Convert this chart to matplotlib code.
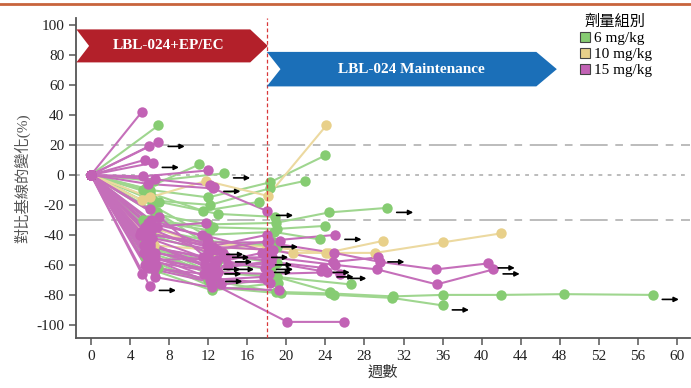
import matplotlib
matplotlib.use('Agg')
import matplotlib.pyplot as plt
from matplotlib.patches import Polygon
from matplotlib.lines import Line2D

plt.rcParams['font.family'] = ['Liberation Serif', 'Noto Sans CJK TC']
plt.rcParams['axes.unicode_minus'] = False

# 6 mg/kg
green_weeks = [[0, 6.9], [0, 6.4, 13.6], [0, 5.6, 11.1], [0, 6, 12, 18.3, 24],
               [0, 6.3, 12.2, 18.3, 21.9], [0, 6, 11.5, 17.2], [0, 6.5, 12, 18.9, 24.4, 30.3],
               [0, 5.8, 12.5, 19, 24], [0, 6, 12, 18.9, 24.5, 30.9, 36, 42, 48.4, 57.5],
               [0, 5.5, 12.5, 19.5, 24.9, 30.8, 36], [0, 6, 12, 19, 26.6], [0, 5.5, 12.3, 19, 24.5],
               [0, 6.2, 11.7, 18.7, 23.4], [0, 6.8, 12.8, 18.5], [0, 5.9, 12.6], [0, 6.6, 12.4, 19.1],
               [0, 5.3], [0, 6.1, 12.1, 19.0], [0, 7.0, 13.0, 18.8], [0, 5.9],
               [0, 5.7, 12.0, 19.0], [0, 6.4, 12.9, 18.4], [0, 5.3, 12.2], [0, 6.9, 13.2, 18.9]]
green_pct = [[0, 33], [0, -4, 1], [0, -9, 7], [0, -10, -15, -5, 13],
             [0, -17, -20, -9, -4], [0, -12, -24, -18], [0, -26, -33, -32, -25, -22],
             [0, -30, -35, -36, -34], [0, -60, -70, -78, -79, -81, -80, -80, -79.5, -80],
             [0, -55, -75, -79, -80, -82, -87], [0, -52, -64, -68, -73], [0, -45, -65, -68, -78],
             [0, -20, -40, -38, -43], [0, -25, -50, -45], [0, -48, -68], [0, -64, -77, -72],
             [0, -10], [0, -40, -52, -59], [0, -18, -26, -28], [0, -58],
             [0, -35, -44, -48], [0, -50, -58, -63], [0, -30, -37], [0, -62, -73, -70]]
green_ongoing = [False, True, False, False, False, False, True, False, True, True,
                 False, False, False, True, False, False, False, False, False, False,
                 False, False, False, False]

# 10 mg/kg
yellow_weeks = [[0, 6, 11.8, 18.1, 24.1], [0, 5.2],
                [0, 6.3, 12.4, 18.3, 20.7, 24.4, 29.1, 36, 42],
                [0, 5.8, 12, 18, 24.1, 29.9], [0, 6.4, 12.6]]
yellow_pct = [[0, -15, -4, -14, 33], [0, -17],
              [0, -35, -48, -50, -52, -52, -52, -45, -39],
              [0, -38, -46, -48, -52, -44], [0, -47, -50]]
yellow_ongoing = [False, False, False, False, False]

# 15 mg/kg
magenta_weeks = [[0, 5.2], [0, 5.9], [0, 6.9], [0, 5.5], [0, 6.3], [0, 5.3, 12.0],
                 [0, 6.6, 12.2, 12.6], [0, 5.8, 12.5, 18.0], [0, 6.0], [0, 5.5, 11.8],
                 [0, 6, 12, 18, 24.9, 29.6, 35.3, 40.7], [0, 6, 12, 18.5, 25, 29.3, 35.4, 41.2],
                 [0, 5.8, 12.3, 20.1, 25.9], [0, 5.2], [0, 6.0], [0, 5.5, 12, 18, 19.3],
                 [0, 6.2, 12.4, 18.2, 25.0], [0, 5.6, 11.7, 17.5], [0, 6.5, 12.8, 18],
                 [0, 5.8, 12, 18.4, 23.8], [0, 6.3, 13, 18.2, 24.2], [0, 5.5, 12.2, 17.7],
                 [0, 6.8, 12.5, 18.6, 24.8, 29.4], [0, 5.9, 11.6, 12.8], [0, 6.5, 12.4, 19.2],
                 [0, 5.4, 12.9, 13.5], [0, 6.1, 11.9], [0, 7.0, 12.6],
                 [0, 5.7, 12.1, 18.2, 23.5, 25.5], [0, 6.4, 13.3, 18.0],
                 [0, 5.0, 11.5, 17.8], [0, 5.6, 12.7], [0, 6.2, 12.0, 17.9], [0, 5.9, 13.8],
                 [0, 6.7], [0, 5.4, 12.3, 18.3], [0, 6.0, 12.6, 14.0], [0, 5.1, 11.9, 12.9],
                 [0, 6.5, 12.1], [0, 5.8, 11.4, 18.1]]
magenta_pct = [[0, 42], [0, 19], [0, 22], [0, 10], [0, 8], [0, -1, 3],
               [0, -3, -7, -8], [0, -6, -9, -24], [0, -23], [0, -35, -32],
               [0, -40, -45, -45, -52, -58, -63, -59], [0, -48, -55, -55, -60, -63, -73, -63],
               [0, -55, -72, -98, -98], [0, -66], [0, -74], [0, -38, -48, -40, -44],
               [0, -42, -50, -44, -40], [0, -50, -60, -52], [0, -52, -58, -60],
               [0, -45, -62, -58, -62], [0, -58, -65, -66, -65], [0, -60, -70, -68],
               [0, -35, -48, -50, -58, -55], [0, -62, -66, -68], [0, -68, -75, -77],
               [0, -47, -57, -52], [0, -30, -42], [0, -28, -60],
               [0, -55, -63, -58, -64, -66], [0, -63, -73, -70],
               [0, -40, -55, -62], [0, -44, -63], [0, -36, -52, -57], [0, -57, -55],
               [0, -60], [0, -52, -69, -72], [0, -46, -62, -60], [0, -38, -47, -50],
               [0, -55, -64], [0, -32, -40, -51]]
magenta_ongoing = [False, False, True, False, True, False, True, True, False, False,
                   True, True, False, False, True, False, True, True, True,
                   True, True, False, True, True, False, True, False, True, True, False,
                   True, True, True, True, False, False, True, True, False, False]

groups = [
    ('6 mg/kg', '#86cc72', '#9fd68f', green_weeks, green_pct, green_ongoing),
    ('10 mg/kg', '#e8d08a', '#ecd9a0', yellow_weeks, yellow_pct, yellow_ongoing),
    ('15 mg/kg', '#c262b5', '#c56fba', magenta_weeks, magenta_pct, magenta_ongoing),
]

fig = plt.figure(figsize=(6.91, 3.88), dpi=100)
ax = fig.add_axes([0.110, 0.129, 0.888, 0.825])

# reference lines
ax.axhline(20, color='#aaaaaa', lw=1.1, dashes=(18, 5, 5, 5), zorder=1)
ax.axhline(-30, color='#aaaaaa', lw=1.1, dashes=(18, 5, 5, 5), zorder=1)
ax.axhline(0, color='#aaaaaa', lw=1.1, dashes=(2.5, 3.5), zorder=1)
ax.axvline(18, color='#d9383a', lw=0.9, dashes=(3, 2), zorder=4)

# spider lines
for label, mcol, lcol, weeks, pct, ongoing in groups:
    for w, p, on in zip(weeks, pct, ongoing):
        ax.plot(w, p, '-', color=lcol, lw=1.5, zorder=2)
        ax.plot(w, p, 'o', color=mcol, ms=7.5, mec='none', zorder=3)
        if on:
            ax.annotate('', xy=(w[-1] + 2.7, p[-1] - 3), xytext=(w[-1] + 1.0, p[-1] - 3),
                        arrowprops=dict(arrowstyle='-|>', color='black', lw=1.2,
                                        mutation_scale=7, shrinkA=0, shrinkB=0), zorder=4)

# treatment banners
red = Polygon([(-1.5, 97), (16.3, 97), (18.1, 86), (16.3, 75), (-1.5, 75), (-0.2, 86)],
              closed=True, fc='#b3202a', ec='none', clip_on=False, zorder=5)
blue = Polygon([(18, 82), (45.6, 82), (47.7, 70.5), (45.6, 59), (18, 59), (19.4, 70.5)],
               closed=True, fc='#1b6fb8', ec='none', clip_on=False, zorder=5)
ax.add_patch(red)
ax.add_patch(blue)
ax.text(7.9, 86, 'LBL-024+EP/EC', color='white', fontsize=11, fontweight='bold',
        ha='center', va='center', zorder=6)
ax.text(32.8, 70.5, 'LBL-024 Maintenance', color='white', fontsize=11, fontweight='bold',
        ha='center', va='center', zorder=6)

ax.set_xlim(-1.54, 61.3)
ax.set_ylim(-108.7, 104.7)
ax.set_xticks(range(0, 61, 4))
ax.set_yticks(range(-100, 101, 20))
for s in ['top', 'right']:
    ax.spines[s].set_visible(False)
for s in ['left', 'bottom']:
    ax.spines[s].set_color('#555555')
    ax.spines[s].set_linewidth(1.3)
ax.tick_params(labelsize=11, length=5, width=1.1, color='#555555', labelcolor='#222222')
ax.set_xlabel('週數', fontsize=11, color='#333333', labelpad=2)
ax.set_ylabel('對比基線的變化(%)', fontsize=11, color='#555555', labelpad=4)

# legend
handles = [Line2D([], [], ls='', marker='s', ms=7, mfc=g[1], mec='#444444', mew=0.8, label=g[0])
           for g in groups]
fig.legend(handles=handles, title='劑量組別', loc='upper left', bbox_to_anchor=(0.82, 0.99),
           frameon=False, fontsize=11, title_fontsize=11, handletextpad=0.1,
           labelspacing=0.15, handlelength=1.0, borderpad=0.2)

# top border line
fig.add_artist(Line2D([0, 1], [0.99, 0.99], transform=fig.transFigure, color='#c8643c', lw=2))

plt.savefig('out.png', dpi=100)
